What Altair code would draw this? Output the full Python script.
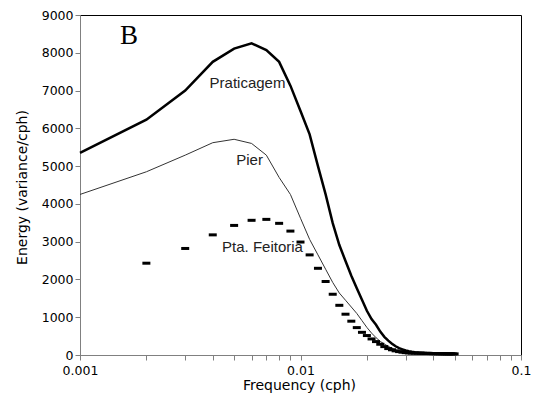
import altair as alt
import pandas as pd

# Frequency grid (cph)
freq = [0.001, 0.002, 0.003, 0.004, 0.005, 0.006, 0.007, 0.008, 0.009, 0.010,
        0.011, 0.012, 0.013, 0.014, 0.015, 0.016, 0.017, 0.018, 0.019, 0.020,
        0.021, 0.022, 0.023, 0.024, 0.025, 0.026, 0.027, 0.028, 0.029, 0.030,
        0.031, 0.032, 0.033, 0.034, 0.035, 0.036, 0.037, 0.038, 0.039, 0.040,
        0.041, 0.042, 0.043, 0.044, 0.045, 0.046, 0.047, 0.048, 0.049, 0.050]

praticagem = [5350, 6230, 7000, 7760, 8110, 8250, 8070, 7760, 7130, 6460,
              5840, 5000, 4250, 3490, 2910, 2490, 2100, 1765, 1460, 1170,
              950, 800, 620, 480, 380, 300, 230, 180, 150, 120,
              100, 85, 75, 68, 62, 58, 55, 52, 50, 48,
              46, 44, 42, 40, 38, 37, 36, 35, 34, 33]

pier = [4250, 4850, 5290, 5620, 5710, 5600, 5290, 4700, 4250, 3620,
        3060, 2650, 2270, 1920, 1640, 1450, 1270, 1100, 910, 730,
        580, 460, 360, 290, 230, 175, 130, 100, 80, 68,
        60, 56, 52, 50, 48, 46, 44, 42, 40, 38,
        37, 36, 35, 34, 33, 32, 31, 30, 30, 30]

# Pta. Feitoria starts at 0.002 cph
feitoria_freq = freq[1:]
feitoria = [2430, 2820, 3180, 3430, 3565, 3590, 3485, 3280, 2990,
            2650, 2295, 1945, 1610, 1315, 1080, 895, 725, 600, 515,
            425, 355, 285, 222, 170, 138, 110, 90, 75, 62,
            55, 52, 50, 48, 46, 44, 42, 40, 38, 36,
            35, 34, 33, 32, 31, 30, 30, 30, 30, 30]

y_ticks = [0, 1000, 2000, 3000, 4000, 5000, 6000, 7000, 8000, 9000]
x_ticks = [0.001, 0.002, 0.003, 0.004, 0.005, 0.006, 0.007, 0.008, 0.009,
           0.01, 0.02, 0.03, 0.04, 0.05, 0.06, 0.07, 0.08, 0.09, 0.1]
x_tick_labels = ["0.001", "0.01", "0.1"]

# annotation texts with their anchor in data coordinates
ann_text = ["Praticagem", "Pier", "Pta. Feitoria"]
ann_f = [0.00387, 0.00511, 0.00441]
ann_e = [7060, 5030, 2726]
panel_text = ["B"]
panel_f = [0.00152]
panel_e = [8220]

rows = []
for f, v in zip(freq, praticagem):
    rows.append({"series": "Praticagem", "f": f, "E": v})
for f, v in zip(freq, pier):
    rows.append({"series": "Pier", "f": f, "E": v})
for f, v in zip(feitoria_freq, feitoria):
    rows.append({"series": "Pta. Feitoria", "f": f, "E": v})
df = pd.DataFrame(rows)

ann_df = pd.DataFrame({"f": ann_f, "E": ann_e, "label": ann_text})
panel_df = pd.DataFrame({"f": panel_f, "E": panel_e, "label": panel_text})

label_expr = " : ".join(
    [f"abs(datum.value - {float(t)}) < 1e-9 ? '{t}'" for t in x_tick_labels]
) + " : ''"

xscale = alt.Scale(type="log", domain=[0.001, 0.1])
yscale = alt.Scale(domain=[0, 9000], nice=False)

x_axis = alt.Axis(values=x_ticks, labelExpr=label_expr,
                  title="Frequency (cph)", tickSize=5, labelPadding=4,
                  titleX=219, titleY=34, titleBaseline="alphabetic",
                  labelFlush=False, labelOverlap=False)
y_axis = alt.Axis(values=y_ticks, format="d",
                  title="Energy (variance/cph)", tickSize=5,
                  labelPadding=2, titleX=-54, titleY=172,
                  titleBaseline="alphabetic", titleAngle=-90,
                  labelOverlap=False, labelFlush=False)


def xe():
    return alt.X("f:Q", scale=xscale, axis=x_axis)


def ye():
    return alt.Y("E:Q", scale=yscale, axis=y_axis)


base = alt.Chart(df).encode(x=xe(), y=ye())

prat_line = base.transform_filter(alt.datum.series == "Praticagem").mark_line(
    color="black", strokeWidth=2.5)
pier_line = base.transform_filter(alt.datum.series == "Pier").mark_line(
    color="#333333", strokeWidth=1)
feit_ticks = base.transform_filter(alt.datum.series == "Pta. Feitoria").mark_tick(
    orient="horizontal", size=8, thickness=3, color="black", opacity=1)

ann = alt.Chart(ann_df).mark_text(
    align="left", baseline="alphabetic", font="Liberation Sans", fontSize=15,
    color="#222222").encode(x=xe(), y=ye(), text="label:N")

panel = alt.Chart(panel_df).mark_text(
    align="left", baseline="alphabetic", font="Liberation Serif", fontSize=27,
    color="black").encode(x=xe(), y=ye(), text="label:N")

chart = alt.layer(prat_line, pier_line, feit_ticks, ann, panel).properties(
    width=441, height=340,
    padding={"left": 80, "top": 15, "right": 14, "bottom": 46},
    autosize="none",
    background="white",
).configure_view(
    stroke="black", strokeWidth=1
).configure_axis(
    grid=False,
    labelFont="DejaVu Sans", labelFontSize=12.5, labelColor="black",
    titleFont="DejaVu Sans", titleFontSize=14, titleFontWeight="normal",
    titleColor="black",
    domainColor="#808080", tickColor="#808080", domainWidth=1, tickWidth=1,
    labelOverlap=False,
)

chart.save("out.html", embed_options={"renderer": "svg", "actions": False})
